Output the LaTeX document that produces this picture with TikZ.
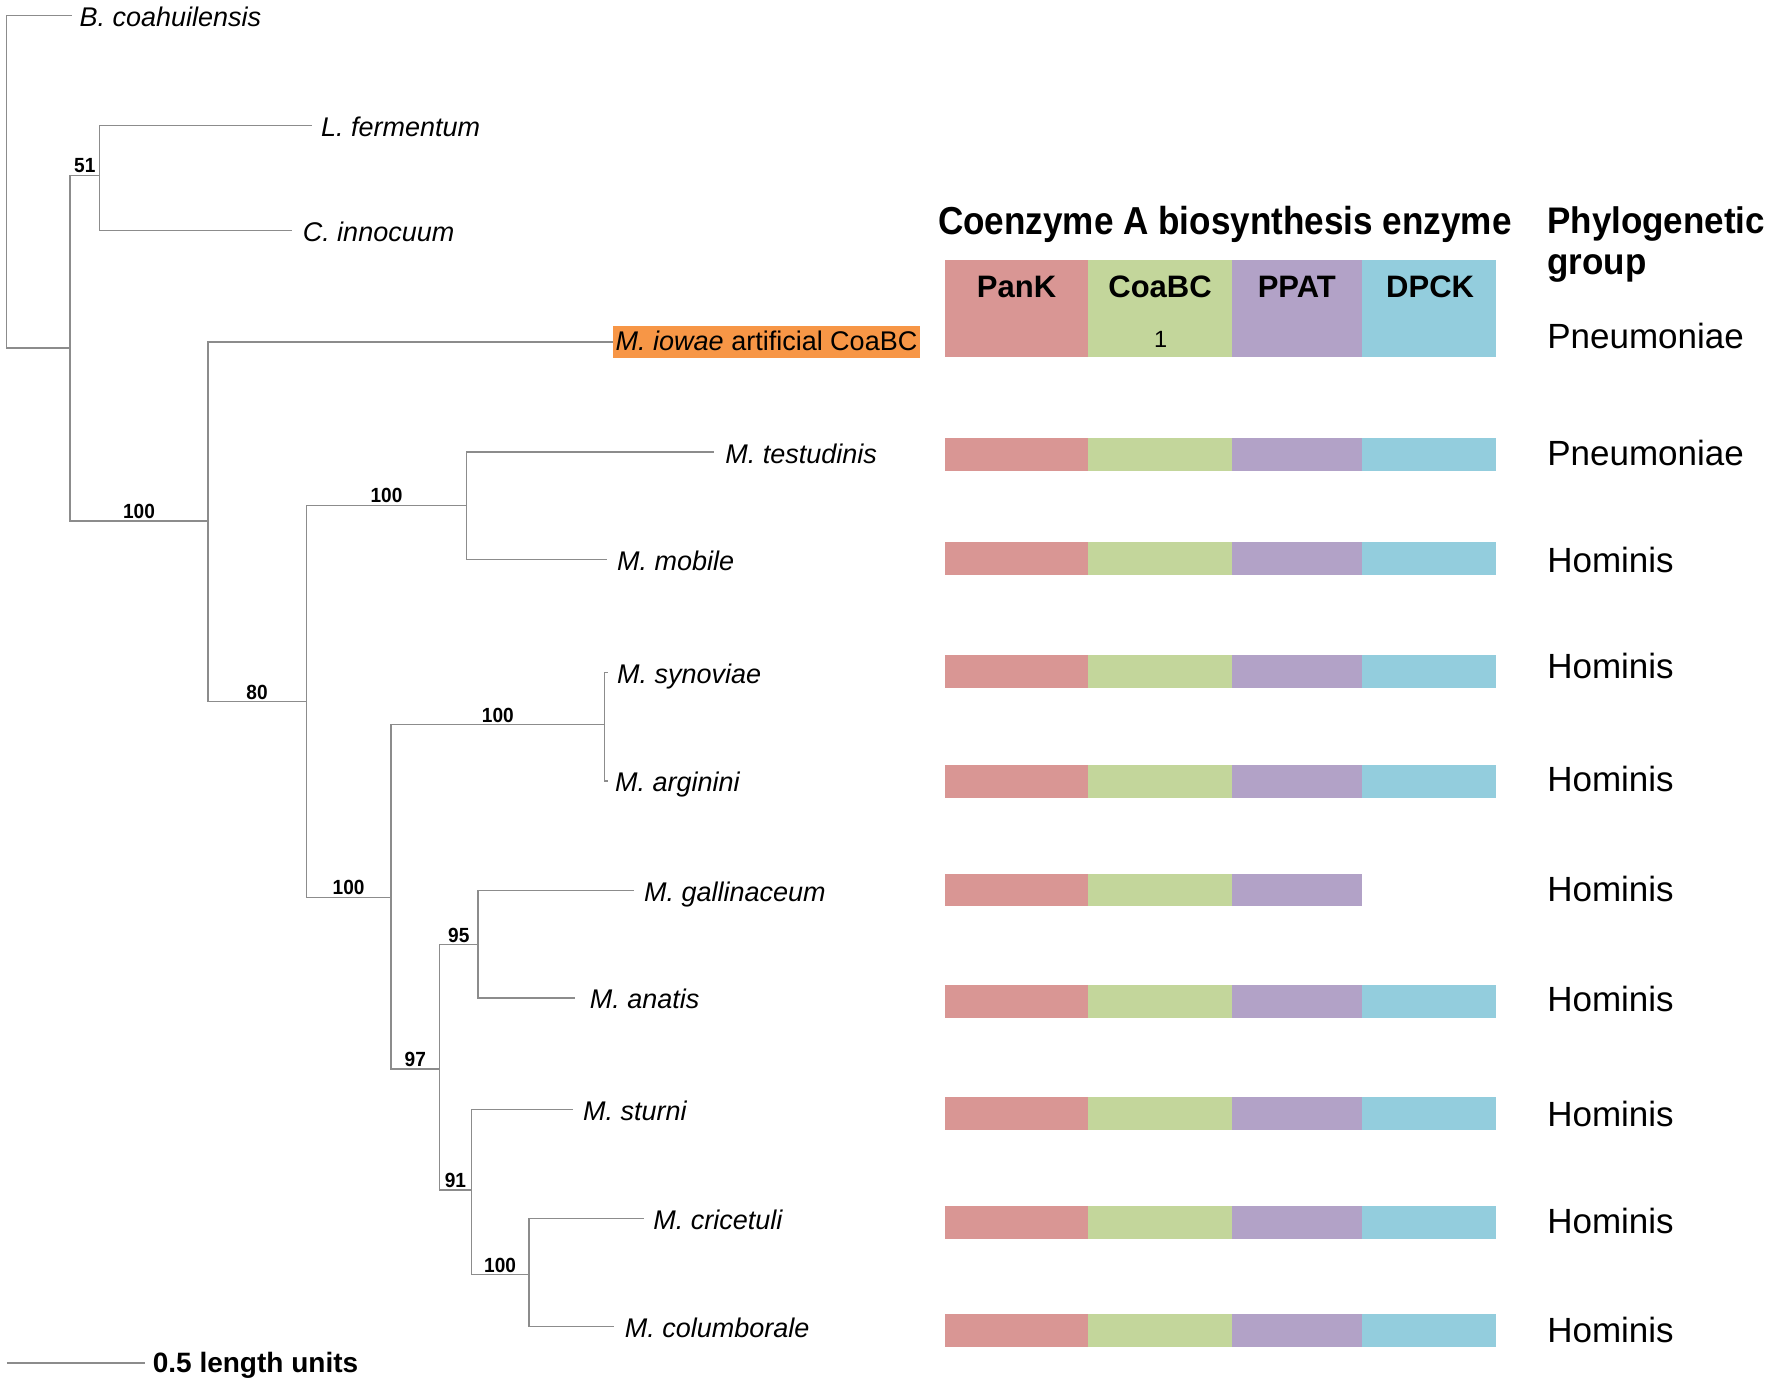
\documentclass[tikz,border=0pt]{standalone}
\usepackage{fontspec}
\setmainfont{Liberation Sans}
\definecolor{pank}{RGB}{217,150,148}
\definecolor{coabc}{RGB}{195,214,155}
\definecolor{ppat}{RGB}{178,162,199}
\definecolor{dpck}{RGB}{147,205,221}
\definecolor{hilite}{RGB}{247,150,70}
\definecolor{branch}{RGB}{140,140,140}
\begin{document}
\begin{tikzpicture}[x=1.1301pt,y=-1.1301pt,
 br/.style={draw=branch,line width=1.3pt},
 leaf/.style={anchor=west,inner xsep=9pt,inner ysep=0pt,text height=27pt,text depth=5pt,font=\fontsize{27}{30}\selectfont\itshape},
 iowbox/.style={anchor=west,fill=hilite,inner xsep=3pt,inner ysep=2.8pt,text height=22pt,text depth=4.4pt,font=\fontsize{27}{30}\selectfont},
 boot/.style={anchor=south,inner sep=1.5pt,xscale=0.93,font=\fontsize{20.5}{22}\selectfont\bfseries},
 grp/.style={anchor=base west,inner sep=0pt,font=\fontsize{35}{40}\selectfont},
 hdr/.style={anchor=base west,inner sep=0pt,font=\fontsize{39}{44}\selectfont\bfseries},
 phy/.style={anchor=base west,inner sep=0pt,xscale=0.945,font=\fontsize{37}{42}\selectfont\bfseries},
 colhd/.style={anchor=base,inner sep=0pt,font=\fontsize{31}{34}\selectfont\bfseries},
 scl/.style={anchor=west,inner xsep=8pt,inner ysep=0pt,text height=25pt,text depth=5pt,font=\fontsize{28}{30}\selectfont\bfseries}]

\fill[white] (0,0) rectangle (1568,1226);
\useasboundingbox (0,0) rectangle (1568,1226);

% ---------- tree: internal nodes ----------
\coordinate (root) at (6,161);
\coordinate (nA) at (62,308);
\coordinate (n51) at (88,155);
\coordinate (nB) at (184,461);
\coordinate (nC) at (271,621);
\coordinate (nD) at (413,447);
\coordinate (nE) at (346,794);
\coordinate (nF) at (535,641);
\coordinate (nG) at (389,946);
\coordinate (nH) at (423,836);
\coordinate (nI) at (417,1053);
\coordinate (nJ) at (468,1128);

% ---------- leaves ----------
\node[leaf,inner xsep=7pt] (bco) at (64,14) {B. coahuilensis};
\node[leaf] (lfe) at (276,111) {L. fermentum};
\node[leaf,inner xsep=11pt] (cin) at (258,204) {C. innocuum};
\node[iowbox] (iow) at (542,302.5) {\itshape M. iowae\upshape\ artificial CoaBC};
\node[leaf,inner xsep=11pt] (tes) at (632,400) {M. testudinis};
\node[leaf,inner xsep=10pt] (mob) at (537,495) {M. mobile};
\node[leaf] (syn) at (538,595) {M. synoviae};
\node[leaf,inner xsep=7pt] (arg) at (538,691) {M. arginini};
\node[leaf,inner xsep=10pt] (gal) at (561,788) {M. gallinaceum};
\node[leaf,inner xsep=14.5pt] (ana) at (509,883) {M. anatis};
\node[leaf,inner xsep=10pt] (stu) at (507,982) {M. sturni};
\node[leaf] (cri) at (570,1078) {M. cricetuli};
\node[leaf,inner xsep=11pt] (col) at (543,1174) {M. columborale};

% ---------- branches ----------
\draw[br] (root) |- (bco.west);
\draw[br] (root) |- (nA);
\draw[br] (nA) |- (n51) node[boot,pos=0.75] {51};
\draw[br] (nA) |- (nB) node[boot,pos=0.75] {100};
\draw[br] (n51) |- (lfe.west);
\draw[br] (n51) |- (cin.west);
\draw[br] (nB) |- (iow.west);
\draw[br] (nB) |- (nC) node[boot,pos=0.75] {80};
\draw[br] (nC) |- (nD) node[boot,pos=0.75] {100};
\draw[br] (nC) |- (nE) node[boot,pos=0.75] {100};
\draw[br] (nD) |- (tes.west);
\draw[br] (nD) |- (mob.west);
\draw[br] (nE) |- (nF) node[boot,pos=0.75] {100};
\draw[br] (nE) |- (nG) node[boot,pos=0.75] {97};
\draw[br] (nF) |- (syn.west);
\draw[br] (nF) |- (arg.west);
\draw[br] (nG) |- (nH) node[boot,pos=0.75] {95};
\draw[br] (nG) |- (nI) node[boot,pos=0.75] {91};
\draw[br] (nH) |- (gal.west);
\draw[br] (nH) |- (ana.west);
\draw[br] (nI) |- (stu.west);
\draw[br] (nI) |- (nJ) node[boot,pos=0.75] {100};
\draw[br] (nJ) |- (cri.west);
\draw[br] (nJ) |- (col.west);

% ---------- scale bar ----------
\coordinate (sb) at (6,1206);
\node[scl] (sbl) at (128,1206) {0.5 length units};
\draw[br] (sb) -- (sbl.west);

% ---------- headers ----------
\node[hdr,xscale=0.9] (enzhdr) at (830,207.3) {Coenzyme A biosynthesis enzyme};
\node[phy] (phy1) at (1369,206.7) {Phylogenetic};
\node[phy] (phy2) at (1369,243) {group};

% header colour block
\fill[pank]  (836,230) rectangle (963,316);
\fill[coabc] (963,230) rectangle (1090,316);
\fill[ppat]  (1090,230) rectangle (1205,316);
\fill[dpck]  (1205,230) rectangle (1324,316);
\node[colhd] (hpank) at (899.5,263) {PanK};
\node[colhd] (hcoabc) at (1026.5,263) {CoaBC};
\node[colhd] (hppat) at (1147.5,263) {PPAT};
\node[colhd] (hdpck) at (1265.5,263) {DPCK};
\node[anchor=base,inner sep=0pt,font=\fontsize{23.5}{26}\selectfont] (one) at (1027,307.4) {1};

% ---------- enzyme bars ----------
\foreach \yc in {402.5,494.5,594.5,691.5,886.5,985.5,1081.5,1177.5} {
  \fill[pank]  (836,\yc-14.5) rectangle (963,\yc+14.5);
  \fill[coabc] (963,\yc-14.5) rectangle (1090,\yc+14.5);
  \fill[ppat]  (1090,\yc-14.5) rectangle (1205,\yc+14.5);
  \fill[dpck]  (1205,\yc-14.5) rectangle (1324,\yc+14.5);
}
\fill[pank]  (836,773) rectangle (963,802);
\fill[coabc] (963,773) rectangle (1090,802);
\fill[ppat]  (1090,773) rectangle (1205,802);

% ---------- phylogenetic groups ----------
\node[grp] (g0) at (1369,308) {Pneumoniae};
\node[grp] (g1) at (1369,411.8) {Pneumoniae};
\node[grp] (g2) at (1369,506.8) {Hominis};
\node[grp] (g3) at (1369,600.8) {Hominis};
\node[grp] (g4) at (1369,700.8) {Hominis};
\node[grp] (g5) at (1369,797.8) {Hominis};
\node[grp] (g6) at (1369,894.8) {Hominis};
\node[grp] (g7) at (1369,996.8) {Hominis};
\node[grp] (g8) at (1369,1091.8) {Hominis};
\node[grp] (g9) at (1369,1187.8) {Hominis};
\end{tikzpicture}
\end{document}
